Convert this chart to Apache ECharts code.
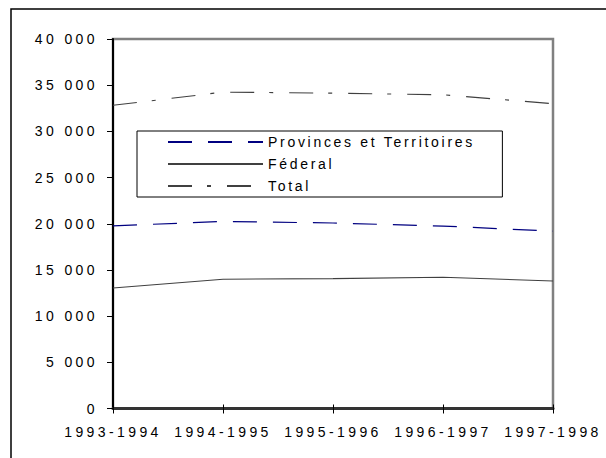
<!DOCTYPE html>
<html>
<head>
<meta charset="utf-8">
<script src="https://cdn.jsdelivr.net/npm/echarts@6/dist/echarts.min.js"></script>
<style>
html,body{margin:0;padding:0;background:#fff;}
#c{width:606px;height:458px;}
#c text{letter-spacing:3.4px;}
</style>
</head>
<body>
<div id="c"></div>
<script>
var categories = ['1993-1994', '1994-1995', '1995-1996', '1996-1997', '1997-1998'];
var seriesNames = ['Provinces et Territoires', 'Féderal', 'Total'];
var provinces = [19770, 20250, 20080, 19750, 19200];
var federal = [13050, 14000, 14060, 14210, 13800];
var total = [32820, 34250, 34140, 33960, 33000];
var yTickLabels = ['0', '5 000', '10 000', '15 000', '20 000', '25 000', '30 000', '35 000', '40 000'];

var FONT = '"Liberation Sans", Arial, sans-serif';
var chart = echarts.init(document.getElementById('c'), null, {renderer: 'svg'});
var option = {
  animation: false,
  backgroundColor: '#fff',
  textStyle: {fontFamily: FONT},
  graphic: [{
    type: 'rect', z: 100, silent: true,
    shape: {x: 11, y: 9, width: 620, height: 470},
    style: {fill: 'none', stroke: '#000', lineWidth: 1.5}
  }],
  grid: {
    left: 113, right: 53, top: 39, bottom: 49.5,
    show: true, borderColor: '#808080', borderWidth: 2.5, backgroundColor: '#fff'
  },
  legend: {
    left: 137, top: 131,
    orient: 'vertical',
    selectedMode: false,
    backgroundColor: '#fff',
    borderColor: '#000', borderWidth: 1,
    padding: [4, 92, 4, 30],
    itemWidth: 95, itemHeight: 14, itemGap: 8,
    itemStyle: {color: 'rgba(0,0,0,0)', borderColor: 'rgba(0,0,0,0)', borderWidth: 0},
    textStyle: {fontFamily: FONT, fontSize: 14, color: '#000'},
    data: seriesNames
  },
  xAxis: [{
    type: 'category', boundaryGap: false, data: categories,
    axisLine: {lineStyle: {color: '#333', width: 3}},
    axisTick: {show: true, length: 5, lineStyle: {color: '#000', width: 1}},
    axisLabel: {interval: 0, margin: 16, fontSize: 14, color: '#000', fontFamily: FONT},
    splitLine: {show: false}
  }, {
    type: 'category', boundaryGap: false, data: categories, position: 'bottom',
    axisLine: {show: false},
    axisTick: {show: true, inside: true, length: 4, lineStyle: {color: '#000', width: 1}},
    axisLabel: {show: false},
    splitLine: {show: false}
  }],
  yAxis: {
    type: 'value', min: 0, max: 40000, interval: 5000,
    axisLine: {show: true, lineStyle: {color: '#000', width: 2}},
    axisTick: {show: true, length: 6, lineStyle: {color: '#000', width: 1}},
    axisLabel: {
      margin: 15, fontSize: 14, color: '#000', fontFamily: FONT,
      formatter: function (v) { return yTickLabels[Math.round(v / 5000)]; }
    },
    splitLine: {show: false}
  },
  series: [{
    name: seriesNames[0], type: 'line', data: provinces, symbol: 'none',
    lineStyle: {color: '#000080', width: 1.2, type: [24, 16]},
    itemStyle: {color: '#000080'}
  }, {
    name: seriesNames[1], type: 'line', data: federal, symbol: 'none',
    lineStyle: {color: '#404040', width: 1.1, type: 'solid'},
    itemStyle: {color: '#404040'}
  }, {
    name: seriesNames[2], type: 'line', data: total, symbol: 'none',
    lineStyle: {color: '#404040', width: 1.1, type: [24, 15, 4, 16]},
    itemStyle: {color: '#404040'}
  }]
};
chart.setOption(option);

function fixSpacing() {
  var texts = document.querySelectorAll('#c text');
  texts.forEach(function (t) {
    var s = t.textContent;
    if (seriesNames.indexOf(s) >= 0) {
      t.style.letterSpacing = '2.7px';
    } else {
      t.style.letterSpacing = '3.4px';
    }
  });
}
chart.on('finished', fixSpacing);
fixSpacing();
setTimeout(fixSpacing, 50);
</script>
</body>
</html>
